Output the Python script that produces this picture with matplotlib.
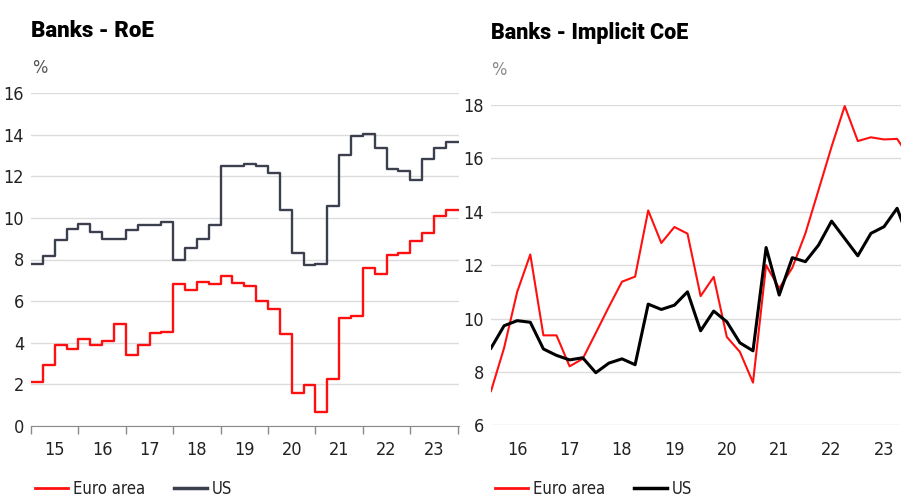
import numpy as np
import matplotlib
matplotlib.use("Agg")
from matplotlib import pyplot as plt
from matplotlib import font_manager
from matplotlib.lines import Line2D

# quarterly RoE, 2015Q1 .. 2023Q4
roe_euro = [2.1, 2.95, 3.9, 3.7, 4.2, 3.9, 4.1, 4.9, 3.4, 3.9, 4.45, 4.5,
            6.8, 6.55, 6.9, 6.8, 7.2, 6.85, 6.75, 6.0, 5.63, 4.4, 1.57, 1.97,
            0.67, 2.27, 5.2, 5.28, 7.6, 7.3, 8.21, 8.32, 8.88, 9.25, 10.08, 10.37]
roe_us = [7.79, 8.16, 8.93, 9.47, 9.7, 9.3, 8.98, 8.98, 9.41, 9.65, 9.68, 9.81,
          7.97, 8.53, 8.98, 9.65, 12.5, 12.5, 12.6, 12.5, 12.16, 10.37, 8.29, 7.73,
          7.78, 10.56, 13.04, 13.94, 14.05, 13.36, 12.37, 12.24, 11.81, 12.82, 13.36, 13.65]

# quarterly implicit CoE, 2016Q1 .. 2024Q1
coe_euro = [7.28, 8.9, 11.0, 12.4, 9.37, 9.37, 8.21, 8.49, 9.46, 10.44, 11.38, 11.57,
            14.05, 12.83, 13.43, 13.18, 10.84, 11.56, 9.31, 8.75, 7.6, 12.0, 11.13, 11.9,
            13.19, 14.81, 16.44, 17.96, 16.65, 16.79, 16.71, 16.73, 16.0]
coe_us = [8.89, 9.73, 9.92, 9.86, 8.86, 8.62, 8.45, 8.53, 7.97, 8.33, 8.49, 8.27,
          10.54, 10.34, 10.5, 11.0, 9.54, 10.28, 9.88, 9.09, 8.79, 12.66, 10.88, 12.28,
          12.13, 12.75, 13.65, 13.0, 12.35, 13.19, 13.44, 14.13, 12.8]

year_labels_left = ["15", "16", "17", "18", "19", "20", "21", "22", "23"]
year_labels_right = ["16", "17", "18", "19", "20", "21", "22", "23"]
series_names = ["Euro area", "US"]

RED = "#ff1010"
SLATE = "#3c3f4e"
GRID = "#dcdcdc"
TXT = "#222222"

# a narrow face if one is around, otherwise Liberation Sans (Arial metrics)
body_font, body_stretch = "Liberation Sans", "normal"
for f in font_manager.fontManager.ttflist:
    nm = f.name.lower()
    if ("narrow" in nm or "condensed" in nm or "condensed" in str(f.stretch)) and f.weight in (400, "normal", "regular"):
        body_font, body_stretch = f.name, f.stretch
        break
plt.rcParams["font.family"] = [body_font, "DejaVu Sans"]
plt.rcParams["font.stretch"] = body_stretch

W, H = 901, 498


def box(l, t, r, b):
    return [l / W, 1 - b / H, (r - l) / W, (b - t) / H]


fig = plt.figure(figsize=(W / 100, H / 100), dpi=100)
fs = 13
lfs = 12

# ---- left: RoE ----
ax1 = fig.add_axes(box(31, 93, 459, 426))
x1 = 2015 + np.arange(len(roe_euro) + 1) * 0.25
ax1.step(x1, roe_euro + roe_euro[-1:], where="post", color=RED, lw=1.7)
ax1.step(x1, roe_us + roe_us[-1:], where="post", color=SLATE, lw=1.7)
ax1.set_xlim(2015, 2015 + 428 / 47.4)
ax1.set_ylim(0, 16)
ax1.set_yticks(np.arange(0, 17, 2))
ax1.set_xticks(np.arange(2015, 2025))
ax1.set_xticklabels([])
ax1.set_xticks(np.arange(2015.5, 2024), minor=True)
ax1.set_xticklabels(year_labels_left, minor=True)
ax1.tick_params(axis="x", which="major", length=6, color="#8a8a8a", width=1)
ax1.tick_params(axis="x", which="minor", length=0, pad=11, labelsize=fs, labelcolor=TXT)
ax1.tick_params(axis="y", length=0, pad=5, labelsize=fs, labelcolor=TXT)
ax1.grid(axis="y", color=GRID, lw=1)
ax1.set_axisbelow(True)
for s in ["top", "right", "left"]:
    ax1.spines[s].set_visible(False)
ax1.spines["bottom"].set_color("#8a8a8a")
ax1.spines["bottom"].set_zorder(0)

title_kw = dict(fontweight="heavy", family=["Roboto", "DejaVu Sans"],
                stretch="normal", va="center", ha="left", color="black")
fig.text(31 / W, 1 - 31 / H, "Banks - RoE", fontsize=16, **title_kw)
fig.text(32 / W, 1 - 68 / H, "%", fontsize=fs, va="center", ha="left", color="#555555")

h1 = [Line2D([], [], color=RED, lw=2), Line2D([], [], color=SLATE, lw=2.5)]
ax1.legend(h1, series_names, loc="center left", bbox_to_anchor=(35 / W, 1 - 489 / H),
           bbox_transform=fig.transFigure, ncol=2, frameon=False, fontsize=lfs,
           handlelength=2.0, handletextpad=0.3, columnspacing=1.7,
           borderpad=0, borderaxespad=0, labelcolor=TXT)

# ---- right: implicit CoE ----
ax2 = fig.add_axes(box(491, 105, 901, 425.3))
x2 = 2016 + np.arange(len(coe_euro)) * 0.25
ax2.plot(x2, coe_euro, color=RED, lw=1.5)
ax2.plot(x2, coe_us, color="black", lw=2.2)
ax2.set_xlim(2016, 2016 + 410 / 52.4)
ax2.set_ylim(6, 18)
ax2.set_yticks(np.arange(6, 19, 2))
ax2.set_xticks([])
ax2.set_xticks(np.arange(2016.5, 2024), minor=True)
ax2.set_xticklabels(year_labels_right, minor=True)
ax2.tick_params(axis="x", which="minor", length=0, pad=11, labelsize=fs, labelcolor=TXT)
ax2.tick_params(axis="y", length=0, pad=5, labelsize=fs, labelcolor=TXT)
ax2.grid(axis="y", color=GRID, lw=1)
ax2.set_axisbelow(True)
for s in ax2.spines.values():
    s.set_visible(False)

fig.text(491 / W, 1 - 33 / H, "Banks - Implicit CoE", fontsize=15.5, **title_kw)
fig.text(491 / W, 1 - 70 / H, "%", fontsize=fs, va="center", ha="left", color="#8a8a8a")

h2 = [Line2D([], [], color=RED, lw=2), Line2D([], [], color="black", lw=2.5)]
ax2.legend(h2, series_names, loc="center left", bbox_to_anchor=(495 / W, 1 - 489 / H),
           bbox_transform=fig.transFigure, ncol=2, frameon=False, fontsize=lfs,
           handlelength=2.0, handletextpad=0.3, columnspacing=1.7,
           borderpad=0, borderaxespad=0, labelcolor=TXT)

fig.savefig("out.png", dpi=100)
